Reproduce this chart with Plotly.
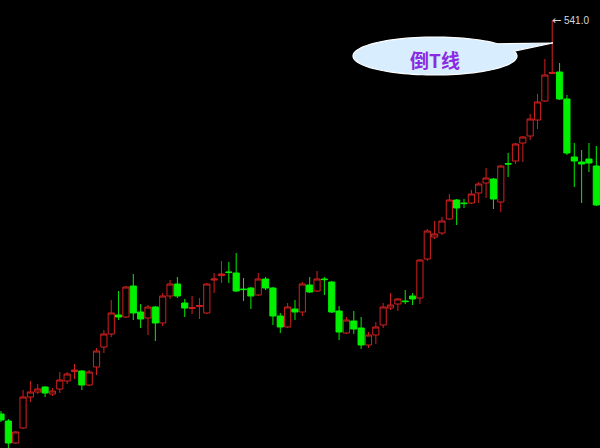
import math
import plotly.graph_objects as go

# ---- data (prices per session) ----
opens = [344.0, 340.5, 329.5, 337.0, 352.5, 355.0, 357.5, 354.0, 356.5, 360.5,
         365.2, 365.5, 358.5, 367.5, 377.5, 384.0, 393.5, 392.5, 408.0, 395.0,
         392.0, 397.5, 389.5, 403.0, 409.0, 399.5, 396.8, 397.8, 394.5, 411.0,
         413.2, 415.0, 414.5, 406.5, 407.0, 403.5, 411.5, 407.0, 393.0, 387.5,
         396.5, 395.0, 408.5, 405.5, 411.5, 410.0, 395.5, 384.5, 390.5, 387.0,
         378.5, 383.5, 388.5, 397.0, 399.0, 400.5, 403.0, 402.0, 421.5, 432.5,
         434.5, 441.5, 451.0, 449.5, 449.5, 454.5, 459.5, 461.5, 450.0, 469.2,
         470.5, 479.5, 483.0, 491.0, 500.5, 514.2, 515.0, 501.5, 472.5, 470.0,
         471.5, 468.0]
highs = [345.5, 341.5, 335.5, 356.0, 360.5, 359.0, 358.0, 357.0, 365.0, 365.0,
         369.0, 366.0, 366.0, 377.0, 386.0, 401.0, 405.5, 408.0, 414.0, 399.0,
         398.5, 398.0, 404.5, 411.0, 412.5, 401.5, 403.0, 402.0, 409.5, 414.5,
         420.5, 420.0, 424.5, 412.0, 407.5, 414.5, 412.5, 407.5, 394.5, 399.5,
         401.0, 410.0, 412.5, 415.5, 412.5, 410.5, 398.0, 392.5, 395.5, 392.5,
         385.0, 390.0, 399.5, 404.5, 402.0, 406.0, 404.5, 421.5, 436.5, 440.5,
         442.5, 454.0, 451.5, 451.5, 456.0, 460.0, 467.0, 462.0, 468.5, 474.5,
         479.5, 483.0, 494.0, 504.0, 521.5, 541.0, 519.5, 503.5, 479.5, 476.0,
         479.5, 478.0]
lows = [340.0, 326.5, 329.0, 336.5, 350.0, 354.0, 352.5, 353.0, 354.5, 359.0,
        361.5, 356.0, 358.0, 363.5, 374.5, 382.5, 391.0, 392.0, 391.0, 387.0,
        383.5, 380.5, 388.0, 401.5, 402.0, 392.5, 394.0, 391.5, 394.0, 404.5,
        409.5, 409.5, 405.0, 400.5, 396.5, 403.0, 406.0, 388.5, 384.5, 387.0,
        391.0, 393.0, 404.5, 405.0, 403.5, 394.5, 381.0, 384.0, 384.0, 376.5,
        377.0, 379.0, 387.0, 396.0, 395.5, 399.0, 398.5, 399.0, 420.5, 431.5,
        433.5, 441.0, 438.5, 447.0, 449.0, 449.5, 452.0, 446.5, 445.0, 462.5,
        469.0, 470.0, 481.0, 486.5, 500.0, 514.2, 501.0, 473.5, 457.5, 449.5,
        465.0, 448.0]
closes = [341.0, 329.5, 335.0, 352.5, 355.0, 356.5, 354.5, 355.5, 361.0, 364.0,
          366.0, 358.5, 365.0, 375.5, 384.0, 394.5, 392.5, 407.5, 394.5, 391.5,
          397.5, 389.5, 403.0, 409.0, 403.0, 397.0, 397.2, 398.2, 409.0, 411.5,
          414.0, 414.8, 405.5, 406.2, 403.0, 411.5, 407.0, 393.0, 387.5, 397.5,
          395.0, 409.0, 405.0, 411.5, 411.2, 395.0, 385.0, 391.0, 386.5, 378.5,
          383.5, 387.5, 397.5, 398.5, 401.5, 400.2, 401.5, 421.0, 435.5, 434.0,
          440.5, 451.0, 447.0, 449.2, 454.0, 459.0, 462.0, 451.5, 468.0, 469.0,
          479.0, 482.5, 491.5, 500.0, 513.5, 514.8, 501.5, 474.5, 470.5, 469.0,
          469.5, 448.5]
sessions = list(range(len(opens)))
peak_index = 75
peak_label = "541.0"
callout_text = "倒T线"

fig = go.Figure()
fig.add_trace(go.Candlestick(
    x=sessions, open=opens, high=highs, low=lows, close=closes,
    increasing=dict(line=dict(color="#d42020", width=1), fillcolor="rgba(0,0,0,0)"),
    decreasing=dict(line=dict(color="#00f000", width=1), fillcolor="#00f000"),
    whiskerwidth=0, hoverinfo="skip", showlegend=False,
))

# ---- speech-bubble callout (paper coordinates) ----
W, H = 600, 448
cx, cy, rx, ry = 435, 56, 82, 19
tip = (553, 43)
pts = []
for k in range(0, 101):
    th = math.radians(40 + (375 - 40) * k / 100)
    pts.append((cx + rx * math.cos(th), cy - ry * math.sin(th)))
pts.append(tip)
path = "M " + " L ".join(f"{x / W:.5f},{1 - y / H:.5f}" for x, y in pts) + " Z"
fig.add_shape(type="path", path=path, xref="paper", yref="paper",
              fillcolor="#d8eeff", line=dict(color="#ffffff", width=1.2), layer="above")
fig.add_annotation(x=435 / W, y=1 - 59 / H, xref="paper", yref="paper",
                   xanchor="center", yanchor="middle",
                   text=f"<b>{callout_text}</b>", showarrow=False,
                   font=dict(family="Noto Sans CJK SC", size=19, color="#8a2be2"))

fig.add_annotation(x=sessions[peak_index], y=highs[peak_index],
                   text="<span style=\"font-family:'DejaVu Sans';font-size:11px\">←</span> " + peak_label,
                   showarrow=False, xanchor="left", yanchor="middle", xshift=-2,
                   font=dict(family="Liberation Sans", size=10, color="#d8d8d8"))

fig.update_layout(
    width=600, height=448, margin=dict(l=0, r=0, t=0, b=0),
    paper_bgcolor="black", plot_bgcolor="black",
    boxgap=0.16, boxgroupgap=0.0,
    xaxis=dict(visible=False, range=[-0.136, 81.5], rangeslider=dict(visible=False), fixedrange=True),
    yaxis=dict(visible=False, range=[327, 551], fixedrange=True),
    showlegend=False,
)
fig.write_html("out.html", config={"displayModeBar": False},
               post_script="document.body.style.margin='0';document.body.style.background='black';document.body.style.overflow='hidden';")
